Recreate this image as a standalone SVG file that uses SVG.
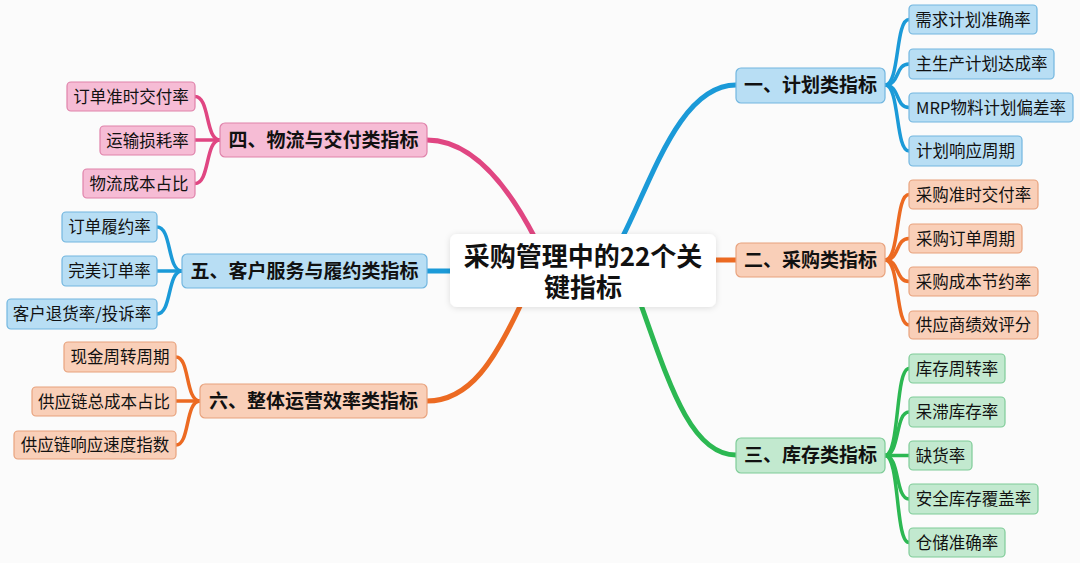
<svg xmlns="http://www.w3.org/2000/svg" width="1080" height="563" viewBox="0 0 1080 563">
<defs>
<style>
text{font-family:"Noto Sans CJK SC","Noto Sans",sans-serif;fill:#111;}
.leaf text{font-size:16.5px;}
.cat text{font-size:19px;font-weight:bold;}
.title{font-size:26px;font-weight:bold;}
.b rect{fill:#b8def4;stroke:#72b6df;stroke-width:1.2;}
.o rect{fill:#f9cfb8;stroke:#e8a27d;stroke-width:1.2;}
.g rect{fill:#c2e9cf;stroke:#7fcc98;stroke-width:1.2;}
.p rect{fill:#f6bcd5;stroke:#df82aa;stroke-width:1.2;}
.conn path{fill:none;stroke-linecap:round;}
.cb{stroke:#1b9ad8;}
.co{stroke:#ec6a22;}
.cg{stroke:#2cb852;}
.cp{stroke:#e04682;}
.main{stroke-width:5;}
.sub{stroke-width:3.5;}
</style>
<filter id="sh" x="-10%" y="-20%" width="120%" height="150%">
<feDropShadow dx="0" dy="1" stdDeviation="3" flood-color="#000" flood-opacity="0.12"/>
</filter>
</defs>
<rect width="1080" height="563" fill="#fbfbfb"/>
<g id="connectors" class="conn">
<path class="cb main" d="M622,238 C652,180 680,85 736,85"/>
<path class="co main" d="M714,260 L736,260"/>
<path class="cg main" d="M640,302 C668,380 690,455 736,455"/>
<path class="cp main" d="M535,238 C505,180 470,140 427,140"/>
<path class="cb main" d="M427,271 L452,271"/>
<path class="co main" d="M522,302 C495,360 470,401 427,401"/>
<path class="cb sub" d="M885,85 C900,85 895,19.5 909,19.5"/>
<path class="cb sub" d="M885,85 C900,85 895,64 909,64"/>
<path class="cb sub" d="M885,85 C900,85 895,107.5 909,107.5"/>
<path class="cb sub" d="M885,85 C900,85 895,151 909,151"/>
<path class="co sub" d="M885,260 C900,260 895,194.5 909,194.5"/>
<path class="co sub" d="M885,260 C900,260 895,238.5 909,238.5"/>
<path class="co sub" d="M885,260 C900,260 895,281.5 909,281.5"/>
<path class="co sub" d="M885,260 C900,260 895,325 909,325"/>
<path class="cg sub" d="M885,455.5 C900,455.5 895,368.5 909,368.5"/>
<path class="cg sub" d="M885,455.5 C900,455.5 895,412 909,412"/>
<path class="cg sub" d="M885,455.5 L909,455.5"/>
<path class="cg sub" d="M885,455.5 C900,455.5 895,499 909,499"/>
<path class="cg sub" d="M885,455.5 C900,455.5 895,542.5 909,542.5"/>
<path class="cp sub" d="M220,140 C205,140 210,96.5 195,96.5"/>
<path class="cp sub" d="M220,140 L195,140"/>
<path class="cp sub" d="M220,140 C205,140 210,183.5 195,183.5"/>
<path class="cb sub" d="M182,271 C167,271 172,227 157,227"/>
<path class="cb sub" d="M182,271 L157,271"/>
<path class="cb sub" d="M182,271 C167,271 172,314 157,314"/>
<path class="co sub" d="M200,401 C185,401 190,357 176,357"/>
<path class="co sub" d="M200,401 L176,401"/>
<path class="co sub" d="M200,401 C185,401 190,445 176,445"/>
</g>
<g id="center">
<rect x="450" y="234" width="266" height="73" rx="7" fill="#fff" filter="url(#sh)"/>
<text class="title" x="583" y="266" text-anchor="middle">采购管理中的22个关</text>
<text class="title" x="583" y="297" text-anchor="middle">键指标</text>
</g>
<g id="cat1" class="cat b"><rect x="736" y="68" width="149" height="35" rx="5"/><text x="810.5" y="92" text-anchor="middle">一、计划类指标</text></g>
<g id="cat2" class="cat o"><rect x="736" y="243" width="149" height="34" rx="5"/><text x="810.5" y="267" text-anchor="middle">二、采购类指标</text></g>
<g id="cat3" class="cat g"><rect x="736" y="438" width="149" height="35" rx="5"/><text x="810.5" y="462" text-anchor="middle">三、库存类指标</text></g>
<g id="cat4" class="cat p"><rect x="220" y="123" width="207" height="34" rx="5"/><text x="323.5" y="147" text-anchor="middle">四、物流与交付类指标</text></g>
<g id="cat5" class="cat b"><rect x="182" y="254" width="245" height="34" rx="5"/><text x="304.5" y="278" text-anchor="middle">五、客户服务与履约类指标</text></g>
<g id="cat6" class="cat o"><rect x="200" y="384" width="227" height="34" rx="5"/><text x="313.5" y="408" text-anchor="middle">六、整体运营效率类指标</text></g>
<g id="l1a" class="leaf b"><rect x="909" y="5" width="128" height="29" rx="4"/><text x="973" y="25.5" text-anchor="middle">需求计划准确率</text></g>
<g id="l1b" class="leaf b"><rect x="909" y="49" width="145" height="30" rx="4"/><text x="981.5" y="70" text-anchor="middle">主生产计划达成率</text></g>
<g id="l1c" class="leaf b"><rect x="909" y="93" width="164" height="29" rx="4"/><text x="991" y="113.5" text-anchor="middle">MRP物料计划偏差率</text></g>
<g id="l1d" class="leaf b"><rect x="909" y="136" width="113" height="30" rx="4"/><text x="965.5" y="157" text-anchor="middle">计划响应周期</text></g>
<g id="l2a" class="leaf o"><rect x="909" y="180" width="129" height="29" rx="4"/><text x="973.5" y="200.5" text-anchor="middle">采购准时交付率</text></g>
<g id="l2b" class="leaf o"><rect x="909" y="224" width="113" height="29" rx="4"/><text x="965.5" y="244.5" text-anchor="middle">采购订单周期</text></g>
<g id="l2c" class="leaf o"><rect x="909" y="267" width="129" height="29" rx="4"/><text x="973.5" y="287.5" text-anchor="middle">采购成本节约率</text></g>
<g id="l2d" class="leaf o"><rect x="909" y="311" width="129" height="28" rx="4"/><text x="973.5" y="331" text-anchor="middle">供应商绩效评分</text></g>
<g id="l3a" class="leaf g"><rect x="909" y="354" width="96" height="29" rx="4"/><text x="957" y="374.5" text-anchor="middle">库存周转率</text></g>
<g id="l3b" class="leaf g"><rect x="909" y="397" width="96" height="30" rx="4"/><text x="957" y="418" text-anchor="middle">呆滞库存率</text></g>
<g id="l3c" class="leaf g"><rect x="909" y="441" width="63" height="29" rx="4"/><text x="940.5" y="461.5" text-anchor="middle">缺货率</text></g>
<g id="l3d" class="leaf g"><rect x="909" y="484" width="129" height="30" rx="4"/><text x="973.5" y="505" text-anchor="middle">安全库存覆盖率</text></g>
<g id="l3e" class="leaf g"><rect x="909" y="528" width="96" height="29" rx="4"/><text x="957" y="548.5" text-anchor="middle">仓储准确率</text></g>
<g id="l4a" class="leaf p"><rect x="67" y="82" width="128" height="29" rx="4"/><text x="131" y="102.5" text-anchor="middle">订单准时交付率</text></g>
<g id="l4b" class="leaf p"><rect x="100" y="126" width="95" height="29" rx="4"/><text x="147.5" y="146.5" text-anchor="middle">运输损耗率</text></g>
<g id="l4c" class="leaf p"><rect x="83" y="169" width="112" height="29" rx="4"/><text x="139" y="189.5" text-anchor="middle">物流成本占比</text></g>
<g id="l5a" class="leaf b"><rect x="62" y="212" width="95" height="30" rx="4"/><text x="109.5" y="233" text-anchor="middle">订单履约率</text></g>
<g id="l5b" class="leaf b"><rect x="62" y="256" width="95" height="30" rx="4"/><text x="109.5" y="277" text-anchor="middle">完美订单率</text></g>
<g id="l5c" class="leaf b"><rect x="7" y="299" width="150" height="30" rx="4"/><text x="82" y="320" text-anchor="middle">客户退货率/投诉率</text></g>
<g id="l6a" class="leaf o"><rect x="64" y="342" width="112" height="30" rx="4"/><text x="120" y="363" text-anchor="middle">现金周转周期</text></g>
<g id="l6b" class="leaf o"><rect x="32" y="387" width="144" height="29" rx="4"/><text x="104" y="407.5" text-anchor="middle">供应链总成本占比</text></g>
<g id="l6c" class="leaf o"><rect x="14" y="431" width="162" height="28" rx="4"/><text x="95" y="451" text-anchor="middle">供应链响应速度指数</text></g>
</svg>
